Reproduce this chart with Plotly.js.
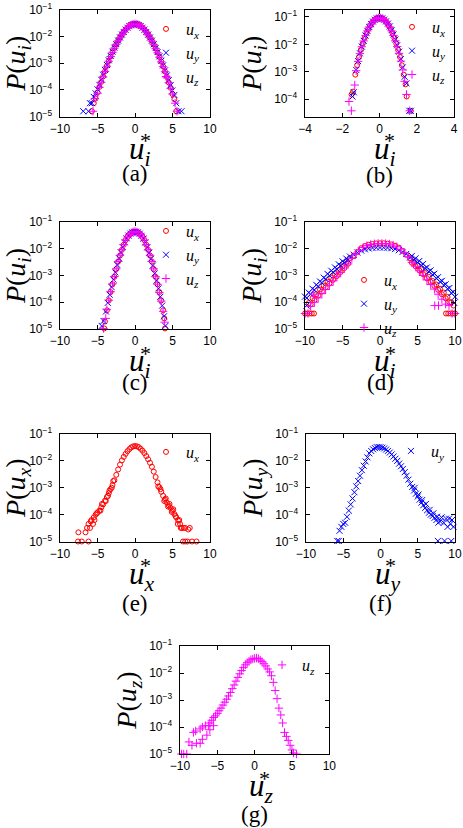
<!DOCTYPE html>
<html>
<head>
<meta charset="utf-8">
<script src="https://cdn.plot.ly/plotly-3.0.1.min.js"></script>
<style>html,body{margin:0;padding:0;background:#fff}</style>
</head>
<body>
<div id="chart" style="width:463px;height:828px"></div>
<script>
// ---- panel (a): all three components ----
var aUxX = [-5.75,-5.5,-5.25,-5,-4.75,-4.5,-4.25,-4,-3.75,-3.5,-3.25,-3,-2.75,-2.5,-2.25,-2,-1.75,-1.5,-1.25,-1,-0.75,-0.5,-0.25,0,0.25,0.5,0.75,1,1.25,1.5,1.75,2,2.25,2.5,2.75,3,3.25,3.5,3.75,4,4.25,4.5,4.75,5,5.25,5.5];
var aUxY = [1.6e-5,3.2e-5,4.8e-5,8.0e-5,1.3e-4,2.0e-4,3.2e-4,5.0e-4,7.9e-4,1.2e-3,1.8e-3,2.6e-3,3.7e-3,5.1e-3,6.9e-3,9.1e-3,1.17e-2,1.48e-2,1.82e-2,2.14e-2,2.45e-2,2.69e-2,2.88e-2,2.95e-2,2.88e-2,2.7e-2,2.46e-2,2.15e-2,1.83e-2,1.48e-2,1.16e-2,9.0e-3,6.8e-3,5.0e-3,3.6e-3,2.5e-3,1.7e-3,1.15e-3,7.6e-4,4.9e-4,3.1e-4,1.9e-4,1.2e-4,7.0e-5,4.5e-5,1.6e-5];
var aUyX = [-6.9,-6.2,-6,-5.75,-5.5,-5.25,-5,-4.75,-4.5,-4.25,-4,-3.75,-3.5,-3.25,-3,-2.75,-2.5,-2.25,-2,-1.75,-1.5,-1.25,-1,-0.75,-0.5,-0.25,0,0.25,0.5,0.75,1,1.25,1.5,1.75,2,2.25,2.5,2.75,3,3.25,3.5,3.75,4,4.25,4.5,4.75,5,5.25,5.5,5.8,6.2];
var aUyY = [1.6e-5,1.6e-5,3.2e-5,3.2e-5,5.5e-5,7.5e-5,1.05e-4,1.55e-4,2.4e-4,3.7e-4,5.6e-4,8.6e-4,1.28e-3,1.88e-3,2.7e-3,3.8e-3,5.2e-3,7.0e-3,9.2e-3,1.18e-2,1.47e-2,1.8e-2,2.12e-2,2.42e-2,2.66e-2,2.83e-2,2.9e-2,2.84e-2,2.67e-2,2.43e-2,2.13e-2,1.8e-2,1.47e-2,1.17e-2,9.1e-3,6.9e-3,5.1e-3,3.7e-3,2.6e-3,1.8e-3,1.24e-3,8.3e-4,5.4e-4,3.5e-4,2.3e-4,1.5e-4,9.5e-5,6.5e-5,3.2e-5,1.6e-5,1.6e-5];
var aUzX = [-5.6,-5.35,-5,-4.75,-4.5,-4.25,-4,-3.75,-3.5,-3.25,-3,-2.75,-2.5,-2.25,-2,-1.75,-1.5,-1.25,-1,-0.75,-0.5,-0.25,0,0.25,0.5,0.75,1,1.25,1.5,1.75,2,2.25,2.5,2.75,3,3.25,3.5,3.75,4,4.25,4.5,4.75,5,5.35,5.6];
var aUzY = [1.6e-5,4.8e-5,7.5e-5,1.25e-4,1.95e-4,3.1e-4,4.9e-4,7.7e-4,1.18e-3,1.78e-3,2.55e-3,3.65e-3,5.05e-3,6.85e-3,9.0e-3,1.16e-2,1.47e-2,1.81e-2,2.14e-2,2.46e-2,2.7e-2,2.87e-2,2.93e-2,2.87e-2,2.69e-2,2.45e-2,2.14e-2,1.82e-2,1.47e-2,1.15e-2,8.9e-3,6.7e-3,4.9e-3,3.5e-3,2.45e-3,1.68e-3,1.12e-3,7.4e-4,4.8e-4,3.0e-4,1.85e-4,1.15e-4,7.0e-5,3.2e-5,1.6e-5];

// ---- panel (b) ----
var bUxX = [-1.5,-1.42,-1.3,-1.2,-1.1,-1,-0.9,-0.8,-0.7,-0.6,-0.5,-0.4,-0.3,-0.2,-0.1,0,0.1,0.2,0.3,0.4,0.5,0.6,0.7,0.8,0.9,1,1.1,1.2,1.3,1.4,1.46,1.68];
var bUxY = [1.5e-4,1.9e-4,7.9e-4,1.74e-3,3.47e-3,6.3e-3,1.07e-2,1.7e-2,2.57e-2,3.63e-2,4.9e-2,6.17e-2,7.41e-2,8.32e-2,9.12e-2,9.33e-2,9.12e-2,8.32e-2,7.41e-2,6.17e-2,4.9e-2,3.63e-2,2.57e-2,1.7e-2,1.07e-2,6.3e-3,3.47e-3,1.74e-3,7.9e-4,3.5e-4,1.26e-4,3.8e-5];
var bUyX = [-1.45,-1.38,-1.25,-1.15,-1.05,-0.95,-0.85,-0.75,-0.65,-0.55,-0.45,-0.35,-0.25,-0.15,-0.05,0.05,0.15,0.25,0.35,0.45,0.55,0.65,0.75,0.85,0.95,1.05,1.15,1.25,1.35,1.45,1.6,1.68];
var bUyY = [1.26e-4,1.8e-4,1.17e-3,2.45e-3,4.7e-3,8.3e-3,1.35e-2,2.1e-2,3.1e-2,4.3e-2,5.5e-2,6.8e-2,7.9e-2,8.7e-2,9.2e-2,9.2e-2,8.8e-2,8.0e-2,6.9e-2,5.7e-2,4.5e-2,3.3e-2,2.3e-2,1.5e-2,9.3e-3,5.4e-3,2.9e-3,1.45e-3,6.6e-4,3.8e-4,3.8e-5,3.8e-5];
var bUzX = [-1.64,-1.51,-1.33,-1.25,-1.15,-1.05,-0.95,-0.85,-0.75,-0.65,-0.55,-0.45,-0.35,-0.25,-0.15,-0.05,0.05,0.15,0.25,0.35,0.45,0.55,0.65,0.75,0.85,0.95,1.05,1.15,1.25,1.35,1.45,1.62];
var bUzY = [8.3e-5,3.8e-5,3.3e-4,1.1e-3,2.4e-3,4.6e-3,8.2e-3,1.33e-2,2.08e-2,3.1e-2,4.3e-2,5.5e-2,6.8e-2,7.9e-2,8.7e-2,9.2e-2,9.2e-2,8.7e-2,7.9e-2,6.8e-2,5.5e-2,4.3e-2,3.1e-2,2.1e-2,1.35e-2,8.3e-3,4.7e-3,2.45e-3,1.17e-3,4.5e-4,1.5e-4,3.8e-5];

// ---- panel (c) ----
var cUxX = [-4.1,-4,-3.75,-3.5,-3.25,-3,-2.75,-2.5,-2.25,-2,-1.75,-1.5,-1.25,-1,-0.75,-0.5,-0.25,0,0.25,0.5,0.75,1,1.25,1.5,1.75,2,2.25,2.5,2.75,3,3.25,3.5,3.75,3.9,4];
var cUxY = [1.05e-5,1.9e-5,5.0e-5,1.17e-4,2.4e-4,4.7e-4,8.9e-4,1.74e-3,3.3e-3,5.6e-3,9.1e-3,1.41e-2,2.09e-2,2.75e-2,3.39e-2,3.89e-2,4.27e-2,4.37e-2,4.27e-2,3.89e-2,3.39e-2,2.75e-2,2.09e-2,1.41e-2,9.1e-3,5.6e-3,3.3e-3,1.74e-3,8.9e-4,4.7e-4,2.4e-4,1.17e-4,5.0e-5,2.5e-5,1.05e-5];
var cUyX = [-4.44,-4.2,-3.875,-3.625,-3.375,-3.125,-2.875,-2.625,-2.375,-2.125,-1.875,-1.625,-1.375,-1.125,-0.875,-0.625,-0.375,-0.125,0.125,0.375,0.625,0.875,1.125,1.375,1.625,1.875,2.125,2.375,2.625,2.875,3.125,3.375,3.625,3.875,4.05];
var cUyY = [1.3e-5,2.0e-5,4.5e-5,9.5e-5,1.9e-4,3.7e-4,7.0e-4,1.3e-3,2.5e-3,4.4e-3,7.3e-3,1.15e-2,1.75e-2,2.45e-2,3.1e-2,3.7e-2,4.1e-2,4.3e-2,4.3e-2,4.1e-2,3.65e-2,3.05e-2,2.4e-2,1.72e-2,1.12e-2,7.0e-3,4.2e-3,2.35e-3,1.2e-3,6.4e-4,3.3e-4,1.6e-4,7.5e-5,3.0e-5,1.3e-5];
var cUzX = [-4.2,-3.9,-3.75,-3.5,-3.25,-3,-2.75,-2.5,-2.25,-2,-1.75,-1.5,-1.25,-1,-0.75,-0.5,-0.25,0,0.25,0.5,0.75,1,1.25,1.5,1.75,2,2.25,2.5,2.75,3,3.25,3.5,3.75,3.95];
var cUzY = [1.05e-5,2.5e-5,5.3e-5,1.2e-4,2.5e-4,4.9e-4,9.2e-4,1.78e-3,3.35e-3,5.7e-3,9.2e-3,1.42e-2,2.1e-2,2.76e-2,3.4e-2,3.9e-2,4.28e-2,4.38e-2,4.28e-2,3.9e-2,3.4e-2,2.76e-2,2.1e-2,1.42e-2,9.2e-3,5.7e-3,3.35e-3,1.76e-3,9.0e-4,4.7e-4,2.3e-4,1.1e-4,4.6e-5,1.8e-5];

// ---- panel (d) ----
var dUxX = [-10,-9.7,-9.4,-9.1,-8.8,
  -9.5,-9.25,-9,-8.75,-8.5,-8.25,-8,-7.75,-7.5,-7.25,-7,-6.75,-6.5,-6.25,-6,-5.75,-5.5,-5.25,-5,-4.75,-4.5,-4.25,-4,
  -3.5,-3,-2.5,-2,-1.5,-1,-0.5,0,0.5,1,1.5,2,2.5,3,3.5,
  4,4.25,4.5,4.75,5,5.25,5.5,5.75,6,6.25,6.5,6.75,7,7.25,7.5,7.75,8,8.25,8.5,8.75,9,9.25,9.5,
  8.8,9.1,9.4,9.7,10,9.8];
var dUxY = [3.8e-5,3.8e-5,3.8e-5,3.8e-5,3.8e-5,
  9.3e-5,8.3e-5,1.41e-4,1.2e-4,2.0e-4,1.78e-4,3.0e-4,2.5e-4,4.2e-4,3.6e-4,5.9e-4,5.0e-4,8.1e-4,6.9e-4,1.12e-3,9.5e-4,1.58e-3,1.35e-3,2.24e-3,1.9e-3,3.2e-3,2.75e-3,4.5e-3,
  5.6e-3,7.7e-3,1.05e-2,1.26e-2,1.41e-2,1.51e-2,1.58e-2,1.6e-2,1.6e-2,1.55e-2,1.45e-2,1.3e-2,1.1e-2,8.3e-3,6.0e-3,
  4.5e-3,3.0e-3,3.3e-3,2.2e-3,2.4e-3,1.55e-3,1.7e-3,1.12e-3,1.23e-3,7.9e-4,8.9e-4,5.8e-4,6.3e-4,4.1e-4,4.6e-4,2.9e-4,3.2e-4,2.0e-4,2.3e-4,1.41e-4,1.58e-4,1.0e-4,1.0e-4,
  3.8e-5,3.8e-5,3.8e-5,3.8e-5,3.8e-5,7.5e-5];
var dUyX = [-10,-9.75,-9.5,-9.25,-9,-8.75,-8.5,-8.25,-8,-7.75,-7.5,-7.25,-7,-6.75,-6.5,-6.25,-6,-5.75,-5.5,-5.25,-5,-4.75,-4.5,-4.25,-4,
  -3.5,-3,-2.5,-2,-1.5,-1,-0.5,0,0.5,1,1.5,2,2.5,3,3.5,
  4,4.25,4.5,4.75,5,5.25,5.5,5.75,6,6.25,6.5,6.75,7,7.25,7.5,7.75,8,8.25,8.5,8.75,9,9.25,9.5,9.75,10,
  -9.8,9.9];
var dUyY = [1.62e-4,1.45e-4,2.3e-4,2.0e-4,3.2e-4,2.9e-4,4.5e-4,3.9e-4,6.0e-4,5.4e-4,8.3e-4,7.4e-4,1.15e-3,1.0e-3,1.51e-3,1.32e-3,2.0e-3,1.74e-3,2.63e-3,2.3e-3,3.4e-3,3.0e-3,4.3e-3,3.8e-3,5.1e-3,
  6.0e-3,7.2e-3,8.5e-3,9.5e-3,1.02e-2,1.07e-2,1.1e-2,1.1e-2,1.1e-2,1.08e-2,1.04e-2,9.7e-3,8.8e-3,7.6e-3,6.4e-3,
  4.7e-3,5.4e-3,3.8e-3,4.4e-3,3.1e-3,3.5e-3,2.4e-3,2.7e-3,1.86e-3,2.0e-3,1.41e-3,1.55e-3,1.07e-3,1.17e-3,7.9e-4,8.7e-4,5.9e-4,6.3e-4,4.4e-4,4.7e-4,3.2e-4,3.4e-4,2.2e-4,2.4e-4,1.6e-4,
  7.5e-5,9.5e-5];
var dUzX = [-10,-9.6,-8.9,
  -9.25,-8.75,-8.25,-7.75,-7.25,-6.75,-6.25,-5.75,-5.25,-4.75,-4.25,
  -3.75,-3.25,-2.75,-2.25,-1.75,-1.25,-0.75,-0.25,0.25,0.75,1.25,1.75,2.25,2.75,3.25,3.75,
  4.25,4.75,5.25,5.75,6.25,6.75,7.25,7.75,8.25,8.75,
  7.3,7.8,9.2,9.6,10];
var dUzY = [3.8e-5,3.8e-5,2.0e-4,
  7.0e-5,1.0e-4,1.45e-4,2.1e-4,3.0e-4,4.3e-4,6.3e-4,9.0e-4,1.3e-3,1.9e-3,2.7e-3,
  4.3e-3,6.3e-3,8.8e-3,1.12e-2,1.31e-2,1.44e-2,1.53e-2,1.57e-2,1.58e-2,1.56e-2,1.5e-2,1.37e-2,1.19e-2,9.6e-3,7.2e-3,5.0e-3,
  3.1e-3,2.2e-3,1.5e-3,1.0e-3,6.8e-4,4.6e-4,3.1e-4,2.0e-4,1.3e-4,8.5e-5,
  7.5e-5,7.5e-5,7.5e-5,3.8e-5,3.8e-5];

// ---- panel (e): u_x alone ----
var eUxX = [-7.6,-7.1,-6.2,-7.55,-6.6,-6.4,-6.2,-6,-5.8,-5.6,-5.5,-5.25,-5,-4.75,-4.5,-4.25,-4,-3.75,-3.5,-3.25,-3,-2.75,-2.5,-2.25,-2,-1.75,-1.5,-1.25,-1,-0.75,-0.5,-0.25,0,0.25,0.5,0.75,1,1.25,1.5,1.75,2,2.25,2.5,2.75,3,3.25,3.5,3.75,4,4.25,4.5,4.75,5,5.25,5.5,5.75,6,6.25,6.5,7.1,7.3,6.4,6.7,7,7.6,8.2,
  -5.9,-5.4,-5.1,-4.6,-4.4,-3.9,-3.6,-3.4,-3.1,-2.9,3.1,3.4,3.9,4.1,4.4,4.6,4.9,5.1,5.4,5.7,5.9,6.1,6.7];
var eUxY = [1.0e-5,1.0e-5,1.0e-5,2.2e-5,2.2e-5,3.2e-5,4.5e-5,3.2e-5,6.3e-5,4.5e-5,7.9e-5,1.0e-4,1.2e-4,1.41e-4,1.86e-4,2.4e-4,3.3e-4,4.5e-4,6.3e-4,8.9e-4,1.26e-3,1.9e-3,3.02e-3,4.79e-3,7.24e-3,1.05e-2,1.41e-2,1.82e-2,2.29e-2,2.75e-2,3.16e-2,3.47e-2,3.55e-2,3.47e-2,3.24e-2,2.82e-2,2.4e-2,1.95e-2,1.51e-2,1.15e-2,8.5e-3,6.03e-3,3.98e-3,2.51e-3,1.58e-3,1.05e-3,7.1e-4,5.0e-4,3.6e-4,2.8e-4,2.2e-4,1.78e-4,1.41e-4,1.05e-4,7.9e-5,6.0e-5,4.5e-5,3.2e-5,3.2e-5,2.8e-5,3.2e-5,1.0e-5,1.0e-5,1.0e-5,1.0e-5,1.0e-5,
  5.6e-5,6.3e-5,1.12e-4,1.41e-4,2.5e-4,3.2e-4,5.0e-4,7.9e-4,1.0e-3,1.78e-3,1.12e-3,8.9e-4,3.2e-4,4.0e-4,2.0e-4,2.5e-4,1.26e-4,1.58e-4,8.9e-5,4.5e-5,6.3e-5,3.2e-5,3.2e-5];

// ---- panel (f): u_y alone ----
var fUyX = [-5.8,-5.6,-5.5,-5.25,-5,-4.75,-4.5,-4.25,-4,-3.75,-3.5,-3.25,-3,-2.75,-2.5,-2.25,-2,-1.75,-1.5,-1.25,-1,-0.75,-0.5,-0.25,0,0.25,0.5,0.75,1,1.25,1.5,1.75,2,2.25,2.5,2.75,3,3.25,3.5,3.75,4,4.25,4.5,4.75,5,5.25,5.5,5.75,6,6.25,6.5,6.75,7,7.25,7.5,7.75,8,8.5,9,9.2,9.6,7.7,8.6,9.5,
  4.6,5.1,5.6,6.1,6.6,7.1,7.6,8.2,8.8,9.4,9.8];
var fUyY = [1.05e-5,1.05e-5,2.5e-5,3.5e-5,4.5e-5,5.0e-5,8.3e-5,1.41e-4,2.4e-4,4.0e-4,6.8e-4,1.12e-3,1.78e-3,2.8e-3,4.5e-3,6.6e-3,9.5e-3,1.35e-2,1.9e-2,2.34e-2,2.7e-2,3.0e-2,3.24e-2,3.3e-2,3.24e-2,3.1e-2,2.9e-2,2.63e-2,2.34e-2,2.04e-2,1.74e-2,1.45e-2,1.2e-2,1.0e-2,7.9e-3,6.3e-3,5.0e-3,3.8e-3,2.8e-3,2.0e-3,1.41e-3,1.07e-3,7.9e-4,6.0e-4,4.7e-4,3.6e-4,2.8e-4,2.24e-4,1.78e-4,1.45e-4,1.17e-4,1.0e-4,8.9e-5,7.6e-5,6.3e-5,5.0e-5,5.6e-5,5.0e-5,3.5e-5,7.1e-5,6.3e-5,1.05e-5,1.05e-5,1.05e-5,
  1.0e-3,5.6e-4,3.5e-4,2.5e-4,1.5e-4,1.12e-4,8.3e-5,7.9e-5,7.1e-5,4.5e-5,3.5e-5];

// ---- panel (g): u_z alone ----
var gUzX = [-9.8,-9.5,-9.1,-8.4,-8.8,-7.8,-7.3,-7,-6.4,-6,-5.5,
  -8.2,-7.9,-7.3,-7,-6.6,-6.2,-6,-5.75,-5.5,-5.25,-5,-4.75,-4.5,-4.25,-4,-3.75,-3.5,-3.25,-3,-2.75,-2.5,-2.25,-2,-1.75,-1.5,-1.25,-1,-0.75,-0.5,-0.25,0,0.25,0.5,0.75,1,1.25,1.5,1.75,2,2.25,2.5,2.75,3,3.25,3.5,3.75,4,4.25,4.5,4.75,5,5.2,5.6];
var gUzY = [1.0e-5,1.0e-5,1.0e-5,2.1e-5,2.8e-5,2.5e-5,2.5e-5,3.5e-5,5.0e-5,7.9e-5,1.12e-4,
  6.3e-5,7.1e-5,8.5e-5,1.0e-4,1.12e-4,1.12e-4,1.41e-4,1.78e-4,2.24e-4,2.6e-4,3.2e-4,4.0e-4,5.0e-4,6.5e-4,8.3e-4,1.07e-3,1.41e-3,1.9e-3,2.63e-3,3.6e-3,5.0e-3,6.9e-3,9.3e-3,1.23e-2,1.58e-2,2.0e-2,2.4e-2,2.75e-2,3.1e-2,3.3e-2,3.47e-2,3.55e-2,3.4e-2,3.0e-2,2.63e-2,2.2e-2,1.82e-2,1.41e-2,1.1e-2,7.9e-3,4.5e-3,2.24e-3,1.12e-3,5.0e-4,2.8e-4,1.41e-4,6.3e-5,4.5e-5,3.2e-5,2.1e-5,1.41e-5,1.1e-5,1.0e-5];

var W = 463, H = 828;
var serif = 'Liberation Serif, Times New Roman, serif';
var sans = 'Liberation Sans, Arial, Helvetica, sans-serif';

var styles = {
  x: {name: '<i>u</i><sub><i>x</i></sub>', symbol: 'circle-open', color: '#ff0000', size: 5},
  y: {name: '<i>u</i><sub><i>y</i></sub>', symbol: 'x-thin-open', color: '#0000ff', size: 6},
  z: {name: '<i>u</i><sub><i>z</i></sub>', symbol: 'cross-thin-open', color: '#ff00ff', size: 6}
};

// plot boxes in page pixels: left, right, top, bottom
var panels = [
  {box: [60, 210, 9.7, 116.7], xr: [-10, 10], xd: 5, yr: [-5, -1], sub: 'i', label: '(a)', labY: 173, legTop: 12, legRight: 204,
   series: [['x', aUxX, aUxY], ['y', aUyX, aUyY], ['z', aUzX, aUzY]]},
  {box: [305, 454, 9.7, 116.7], xr: [-4, 4], xd: 2, yr: [-4.635, -0.737], sub: 'i', label: '(b)', labY: 175, legTop: 10, legRight: 450,
   series: [['x', bUxX, bUxY], ['y', bUyX, bUyY], ['z', bUzX, bUzY]]},
  {box: [60, 210, 222, 329], xr: [-10, 10], xd: 5, yr: [-5, -1], sub: 'i', label: '(c)', labY: 382, legTop: 214, legRight: 204,
   series: [['x', cUxX, cUxY], ['y', cUyX, cUyY], ['z', cUzX, cUzY]]},
  {box: [305, 455, 222, 329], xr: [-10, 10], xd: 5, yr: [-5, -1], sub: 'i', label: '(d)', labY: 382, legTop: 263, legRight: 402,
   series: [['x', dUxX, dUxY], ['y', dUyX, dUyY], ['z', dUzX, dUzY]]},
  {box: [60, 210, 434, 541.5], xr: [-10, 10], xd: 5, yr: [-5, -1], sub: 'x', label: '(e)', labY: 603, legTop: 435, legRight: 204,
   series: [['x', eUxX, eUxY]]},
  {box: [306, 455, 434, 541.5], xr: [-10, 10], xd: 5, yr: [-5, -1], sub: 'y', label: '(f)', labY: 603, legTop: 434, legRight: 449,
   series: [['y', fUyX, fUyY]]},
  {box: [180, 329.3, 646, 754], xr: [-10, 10], xd: 5, yr: [-5, -1], sub: 'z', label: '(g)', labY: 814, legTop: 648, legRight: 320,
   series: [['z', gUzX, gUzY]]}
];

var axisCommon = {
  showline: true, linecolor: '#000', linewidth: 1, mirror: 'ticks',
  ticks: 'inside', ticklen: 4, tickwidth: 1, tickcolor: '#000',
  showgrid: false, zeroline: false, fixedrange: true
};

var traces = [];
var layout = {
  width: W, height: H,
  margin: {l: 0, r: 0, t: 0, b: 0},
  paper_bgcolor: '#fff', plot_bgcolor: '#fff',
  showlegend: true,
  annotations: []
};

panels.forEach(function (p, i) {
  var n = i === 0 ? '' : String(i + 1);
  var b = p.box;
  var cx = (b[0] + b[1]) / 2;
  var legId = 'legend' + n;

  layout['xaxis' + n] = Object.assign({}, axisCommon, {
    domain: [b[0] / W, b[1] / W], anchor: 'y' + n,
    range: p.xr, dtick: p.xd, tick0: 0,
    tickfont: {family: sans, size: 12, color: '#000'}, ticklabelstandoff: 1
  });
  layout['yaxis' + n] = Object.assign({}, axisCommon, {
    domain: [1 - b[3] / H, 1 - b[2] / H], anchor: 'x' + n,
    type: 'log', range: p.yr, dtick: 1, exponentformat: 'power', showexponent: 'all',
    tickfont: {family: sans, size: 9.6, color: '#000'}, ticklabelstandoff: 5,
    title: {text: '<i>P</i>(<i>u</i><sub><i>' + p.sub + '</i></sub>)', font: {family: serif, size: 28, color: '#000'}, standoff: 4}
  });
  layout[legId] = {
    x: p.legRight / W, xanchor: 'right', y: 1 - p.legTop / H, yanchor: 'top',
    bgcolor: 'rgba(0,0,0,0)', borderwidth: 0,
    font: {family: serif, size: 16, color: '#000'},
    itemwidth: 30, tracegroupgap: 0
  };

  p.series.forEach(function (s) {
    var st = styles[s[0]];
    traces.push({
      type: 'scatter', mode: 'markers', x: s[1], y: s[2],
      xaxis: 'x' + n, yaxis: 'y' + n, legend: legId,
      name: st.name, cliponaxis: false,
      marker: {symbol: st.symbol, color: st.color, size: st.size, line: {width: 1, color: st.color}}
    });
  });

  // x title u_i with the star stacked over the subscript
  layout.annotations.push({
    xref: 'paper', yref: 'paper', x: (cx - 8) / W, y: 1 - (b[3] + 34) / H,
    text: '<i>u</i><sub><i>' + p.sub + '</i></sub>', showarrow: false, xanchor: 'left', yanchor: 'middle',
    font: {family: serif, size: 31, color: '#000'}
  });
  layout.annotations.push({
    xref: 'paper', yref: 'paper', x: (cx + 10) / W, y: 1 - (b[3] + 24) / H,
    text: '*', showarrow: false, xanchor: 'center', yanchor: 'middle',
    font: {family: serif, size: 22, color: '#000'}
  });
  // panel label
  layout.annotations.push({
    xref: 'paper', yref: 'paper', x: cx / W, y: 1 - p.labY / H,
    text: p.label, showarrow: false, xanchor: 'center', yanchor: 'middle',
    font: {family: serif, size: 23, color: '#000'}
  });
});

Plotly.newPlot('chart', traces, layout, {displayModeBar: false, staticPlot: true});
</script>
</body>
</html>
